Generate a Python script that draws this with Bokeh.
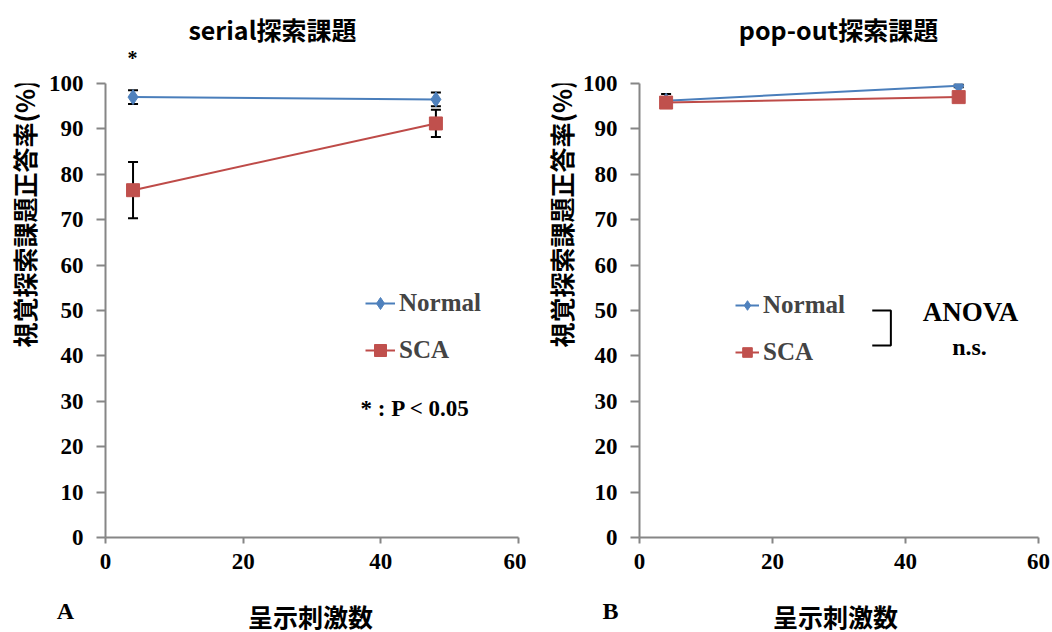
import math
from bokeh.plotting import figure
from bokeh.layouts import row, column
from bokeh.models import (Range1d, FixedTicker, Label, Legend, Whisker, TeeHead,
                          ColumnDataSource)
from bokeh.embed import file_html
from bokeh.resources import INLINE

# ---------------- data ----------------
stim_counts = [4, 48]
y_ticks = [0, 10, 20, 30, 40, 50, 60, 70, 80, 90, 100]
x_ticks = [0, 20, 40, 60]

serial_normal = [97.0, 96.5]
serial_normal_err = [1.5, 1.5]
serial_sca = [76.5, 91.2]
serial_sca_err = [6.2, 3.0]

popout_normal = [96.2, 99.5]
popout_normal_err = [1.5, 0.3]
popout_sca = [95.8, 97.0]
popout_sca_err = [0.5, 0.5]

titles = ["serial探索課題", "pop-out探索課題"]
panel_letters = ["A", "B"]
y_label = "視覚探索課題正答率(%)"
x_label = "呈示刺激数"
series_names = ["Normal", "SCA"]
sig_mark = "*"
sig_note = "* : P < 0.05"
anova_text = ["ANOVA", "n.s."]

BLUE = "#4A7EBB"
BLUE_M = "#4F81BD"
RED = "#BE4B48"
RED_M = "#C0504D"
AXIS = "#868686"
SERIF = "Liberation Serif"
CJK = "Noto Sans CJK JP"

TOP_H = 68
BOT_H = 42
MID_H = 632 - TOP_H - BOT_H
LEFT_WA = 40
LEFT_WB = 53
FRAME_TOP = 83
FRAME_BOTTOM = 537


def strip(w, h):
    s = figure(width=w, height=h, output_backend="svg", toolbar_location=None,
               x_axis_location=None, y_axis_location=None,
               x_range=Range1d(0, 1), y_range=Range1d(0, 1),
               min_border=0, min_border_left=0, min_border_right=0,
               min_border_top=0, min_border_bottom=0)
    s.outline_line_color = None
    s.grid.visible = False
    return s


def lab(p, text, x, y, font, size, angle=0.0, align="center", style="bold"):
    p.add_layout(Label(x=x, y=y, x_units="screen", y_units="screen", text=text,
                       text_font=font, text_font_size=size, text_font_style=style,
                       text_align=align, text_baseline="middle", angle=angle,
                       text_color="black"))


def make_panel(normal, normal_err, sca, sca_err, width, border_left, border_right,
               legend_loc, glyph_w):
    p = figure(width=width, height=MID_H, output_backend="svg",
               toolbar_location=None,
               x_range=Range1d(0, 60), y_range=Range1d(0, 100),
               min_border_left=border_left, min_border_right=border_right,
               min_border_top=FRAME_TOP - TOP_H,
               min_border_bottom=TOP_H + MID_H - FRAME_BOTTOM)
    p.outline_line_color = None
    p.grid.visible = False

    for ax in (p.xaxis[0], p.yaxis[0]):
        ax.axis_line_color = AXIS
        ax.axis_line_width = 2
        ax.major_tick_line_color = AXIS
        ax.major_tick_line_width = 2
        ax.major_tick_in = 0
        ax.minor_tick_line_color = None
        ax.major_label_text_font = SERIF
        ax.major_label_text_font_style = "bold"
        ax.major_label_text_font_size = "23px"
        ax.major_label_text_color = "black"
    p.xaxis[0].ticker = FixedTicker(ticks=x_ticks)
    p.yaxis[0].ticker = FixedTicker(ticks=y_ticks)
    p.xaxis[0].major_tick_out = 6
    p.yaxis[0].major_tick_out = 9
    p.xaxis[0].major_label_standoff = 10
    p.yaxis[0].major_label_standoff = 13

    srcN = ColumnDataSource(dict(x=stim_counts, y=normal,
                                 lo=[v - e for v, e in zip(normal, normal_err)],
                                 hi=[v + e for v, e in zip(normal, normal_err)]))
    srcS = ColumnDataSource(dict(x=stim_counts, y=sca,
                                 lo=[v - e for v, e in zip(sca, sca_err)],
                                 hi=[v + e for v, e in zip(sca, sca_err)]))

    for src in (srcN, srcS):
        w = Whisker(source=src, base="x", upper="hi", lower="lo",
                    line_color="black", line_width=2,
                    upper_head=TeeHead(size=10, line_color="black", line_width=2),
                    lower_head=TeeHead(size=10, line_color="black", line_width=2))
        w.level = "underlay"
        p.add_layout(w)

    lN = p.line("x", "y", source=srcN, line_color=BLUE, line_width=2)
    lS = p.line("x", "y", source=srcS, line_color=RED, line_width=2)
    mN = p.scatter("x", "y", source=srcN, marker="diamond", size=15,
                   fill_color=BLUE_M, line_color=BLUE_M)
    mS = p.scatter("x", "y", source=srcS, marker="square", size=13,
                   fill_color=RED_M, line_color=RED_M)

    legend = Legend(items=[(series_names[0], [lN, mN]), (series_names[1], [lS, mS])],
                    location=legend_loc, padding=0, margin=0, spacing=17,
                    glyph_width=glyph_w, glyph_height=30, label_height=30,
                    label_standoff=4, border_line_color=None,
                    background_fill_alpha=0,
                    label_text_font=SERIF, label_text_font_style="bold",
                    label_text_font_size="25px")
    p.add_layout(legend, "center")
    return p


# ---- main panels ----
pA = make_panel(serial_normal, serial_normal_err, serial_sca, serial_sca_err,
                526 - LEFT_WA, 105 - LEFT_WA, 8, (260, 172), 30)
lab(pA, sig_note, 255, 129, SERIF, "23px", align="left")

pB = make_panel(popout_normal, popout_normal_err, popout_sca, popout_sca_err,
                526 - LEFT_WB, 638 - 526 - LEFT_WB, 14, (96, 170), 24)
lab(pB, anova_text[0], 331, 226, SERIF, "27px")
lab(pB, anova_text[1], 330, 191, SERIF, "24px")
# bracket joining the two legend entries (annotation, in data units)
bracket_x = [35.0, 37.8, 37.8, 35.0]
bracket_y = [50.0, 50.0, 42.3, 42.3]
pB.line(bracket_x, bracket_y, line_color="black", line_width=2)

# ---- text strips around the panels ----
top = strip(1052, TOP_H)
lab(top, titles[0], 272, TOP_H - 28, CJK, "25px")
lab(top, titles[1], 838, TOP_H - 28, CJK, "25px")
lab(top, sig_mark, 132, TOP_H - 57, SERIF, "20px")

# the side strips share the main panels' frame bottom (row alignment)
leftA = strip(LEFT_WA, MID_H)
lab(leftA, y_label, 23, FRAME_BOTTOM - 347, CJK, "25px",
    angle=math.pi / 2, align="left")
leftB = strip(LEFT_WB, MID_H)
lab(leftB, y_label, 560 - 526, FRAME_BOTTOM - 347, CJK, "25px",
    angle=math.pi / 2, align="left")

bottom = strip(1052, BOT_H)
lab(bottom, panel_letters[0], 65, 632 - 610, SERIF, "24px")
lab(bottom, x_label, 310, 632 - 615, CJK, "25px")
lab(bottom, panel_letters[1], 610, 632 - 610, SERIF, "24px")
lab(bottom, x_label, 835, 632 - 615, CJK, "25px")

layout = column(top, row(leftA, pA, leftB, pB), bottom)
open("out.html", "w").write(file_html(layout, INLINE))
